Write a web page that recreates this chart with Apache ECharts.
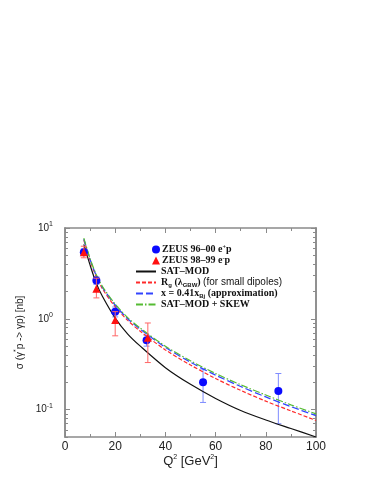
<!DOCTYPE html>
<html><head><meta charset="utf-8">
<script src="https://cdn.jsdelivr.net/npm/echarts@6/dist/echarts.min.js"></script>
<style>html,body{margin:0;padding:0;background:#fff}#c{width:382px;height:494px}</style>
</head><body><div id="c"></div><script>
// ---- data ----
const q2Curve = [7.5, 10, 12.5, 15, 20, 25, 30, 40, 50, 60, 70, 80, 90, 100];
const satMod  = [6.6, 3.9, 2.45, 1.75, 1.02, 0.68, 0.5, 0.29, 0.19, 0.133, 0.098, 0.077, 0.062, 0.05];
const rgGbw   = [7.35, 4.4, 2.9, 2.12, 1.36, 0.96, 0.73, 0.455, 0.31, 0.22, 0.163, 0.124, 0.097, 0.076];
const xApprox = [7.55, 4.5, 2.98, 2.2, 1.42, 1.0, 0.77, 0.485, 0.333, 0.24, 0.18, 0.138, 0.108, 0.086];
const satSkew = [7.75, 4.6, 3.05, 2.25, 1.45, 1.03, 0.79, 0.5, 0.345, 0.25, 0.188, 0.145, 0.113, 0.09];

const q2Zeus1  = [7.5, 12.5, 20, 32.5, 55, 85];
const sigZeus1 = [5.4, 2.65, 1.2, 0.58, 0.2, 0.16];
const loZeus1  = [5.0, 2.4, 1.05, 0.5, 0.12, 0.07];
const hiZeus1  = [5.9, 2.9, 1.35, 0.66, 0.28, 0.25];

const q2Zeus2  = [7.5, 12.5, 20, 33];
const sigZeus2 = [5.4, 2.15, 0.97, 0.62];
const loZeus2  = [4.7, 1.7, 0.65, 0.33];
const hiZeus2  = [6.3, 2.8, 1.2, 0.9];

const xTicks = [0, 20, 40, 60, 80, 100];
const yMajor = [0.1, 1, 10];
const yMinor = [0.05, 0.06, 0.07, 0.08, 0.09, 0.2, 0.3, 0.4, 0.5, 0.6, 0.7, 0.8, 0.9, 2, 3, 4, 5, 6, 7, 8, 9];

const names = ['ZEUS 96–00 e+p', 'ZEUS 98–99 e-p', 'SAT–MOD', 'Rg', 'xBj', 'SAT–MOD + SKEW'];
const legendText = {
  'ZEUS 96–00 e+p': 'ZEUS 96–00 e{sup|+}p',
  'ZEUS 98–99 e-p': 'ZEUS 98–99 e{sup|-}p',
  'SAT–MOD': 'SAT–MOD',
  'Rg': 'R{sub|g} (λ{sub|GBW}) {sans|(for small dipoles)}',
  'xBj': 'x = 0.41x{sub|Bj} (approximation)',
  'SAT–MOD + SKEW': 'SAT–MOD + SKEW'
};

// ---- chart ----
const zip = (a, b) => a.map((v, i) => [v, b[i]]);
const zip3 = (a, b, c) => a.map((v, i) => [v, b[i], c[i]]);
const frame = '#8a8a8a';
const serif = '"Liberation Serif", "DejaVu Serif", serif';
const sans = '"Liberation Sans", Arial, sans-serif';

function errBar(color) {
  return function (params, api) {
    const x = api.value(0);
    const lo = api.coord([x, api.value(1)]);
    const hi = api.coord([x, api.value(2)]);
    const w = 3;
    const st = { stroke: color, lineWidth: 1 };
    return { type: 'group', children: [
      { type: 'line', shape: { x1: lo[0], y1: lo[1], x2: hi[0], y2: hi[1] }, style: st },
      { type: 'line', shape: { x1: lo[0] - w, y1: lo[1], x2: lo[0] + w, y2: lo[1] }, style: st },
      { type: 'line', shape: { x1: hi[0] - w, y1: hi[1], x2: hi[0] + w, y2: hi[1] }, style: st }
    ]};
  };
}

const xBase = {
  type: 'value', min: 0, max: 100, interval: 20, gridIndex: 0,
  axisLine: { show: true, lineStyle: { color: frame, width: 1.5 } },
  axisTick: { show: true, inside: true, length: 5, lineStyle: { color: frame } },
  minorTick: { show: true, splitNumber: 2, length: 3, lineStyle: { color: frame } },
  splitLine: { show: false }
};
const yBase = {
  type: 'log', min: 0.05, max: 10, logBase: 10,
  axisLine: { show: true, lineStyle: { color: frame, width: 1.5 } },
  splitLine: { show: false }
};
const supRich = { s: { fontSize: 7, verticalAlign: 'top', padding: [0, 0, 7, 0], fontFamily: sans, color: '#222' } };

const option = {
  animation: false,
  backgroundColor: '#fff',
  grid: { left: 65, top: 228, width: 251, height: 209, containLabel: false },
  xAxis: [
    Object.assign({}, xBase, {
      position: 'bottom',
      name: 'Q{s|2} [GeV{s|2}]', nameLocation: 'middle', nameGap: 16,
      nameTextStyle: { fontFamily: sans, fontSize: 13, color: '#222',
        rich: { s: { fontSize: 7, verticalAlign: 'top', padding: [0, 0, 8, 0], fontFamily: sans, color: '#222' } } },
      axisLabel: { show: true, margin: 4, fontFamily: sans, fontSize: 12, color: '#222' }
    }),
    Object.assign({}, xBase, { position: 'top', axisLabel: { show: false } })
  ],
  yAxis: [
    Object.assign({}, yBase, {
      position: 'left',
      name: 'σ (γ{s|*}p -> γp) [nb]', nameLocation: 'middle', nameRotate: 90, nameGap: 28,
      nameTextStyle: { fontFamily: sans, fontSize: 10, color: '#222', rich: supRich },
      axisTick: { show: true, inside: true, length: 5, lineStyle: { color: frame }, customValues: yMajor },
      axisLabel: { show: true, margin: 12, fontFamily: sans, fontSize: 10, color: '#222', customValues: yMajor,
        formatter: v => '10{s|' + Math.round(Math.log10(v)) + '}', rich: supRich }
    }),
    Object.assign({}, yBase, {
      position: 'left',
      axisTick: { show: true, inside: true, length: 3, lineStyle: { color: frame }, customValues: yMinor },
      axisLabel: { show: false }
    }),
    Object.assign({}, yBase, {
      position: 'right',
      axisTick: { show: true, inside: true, length: 5, lineStyle: { color: frame }, customValues: yMajor },
      axisLabel: { show: false }
    }),
    Object.assign({}, yBase, {
      position: 'right',
      axisTick: { show: true, inside: true, length: 3, lineStyle: { color: frame }, customValues: yMinor },
      axisLabel: { show: false }
    })
  ],
  legend: [
    {
      data: [names[0], names[1]], orient: 'vertical', left: 147, top: 239,
      itemWidth: 8, itemHeight: 8, itemGap: 0,
      formatter: n => legendText[n],
      textStyle: { fontFamily: serif, fontWeight: 'bold', fontSize: 10, color: '#111', lineHeight: 11, padding: [0, 0, 0, -3],
        rich: { sup: { fontSize: 6, verticalAlign: 'top', padding: [0, 0, 5, 0], fontFamily: serif, fontWeight: 'bold' } } }
    },
    {
      data: [names[2], names[3], names[4], names[5]], orient: 'vertical', left: 130, top: 261,
      itemWidth: 20, itemHeight: 8, itemGap: 0,
      itemStyle: { opacity: 0 },
      formatter: n => legendText[n],
      textStyle: { fontFamily: serif, fontWeight: 'bold', fontSize: 10, color: '#111', lineHeight: 11,
        rich: {
          sub: { fontSize: 6, verticalAlign: 'bottom', padding: [4, 0, 0, 0], fontFamily: sans, fontWeight: 'bold' },
          sans: { fontFamily: sans, fontWeight: 'normal', fontSize: 10 }
        } }
    }
  ],
  series: [
    { name: names[2], type: 'line', smooth: 0.3, symbol: 'none', data: zip(q2Curve, satMod),
      lineStyle: { color: '#111', width: 1.2 }, itemStyle: { color: '#111' } },
    { name: names[3], type: 'line', smooth: 0.3, symbol: 'none', data: zip(q2Curve, rgGbw),
      lineStyle: { color: '#ff2a2a', width: 1.2, type: [4, 2] }, itemStyle: { color: '#ff2a2a' } },
    { name: names[4], type: 'line', smooth: 0.3, symbol: 'none', data: zip(q2Curve, xApprox),
      lineStyle: { color: '#3344ff', width: 1.3, type: [7, 3] }, itemStyle: { color: '#3344ff' } },
    { name: names[5], type: 'line', smooth: 0.3, symbol: 'none', data: zip(q2Curve, satSkew),
      lineStyle: { color: '#55bb33', width: 1.2, type: [7, 2, 1.5, 2] }, itemStyle: { color: '#55bb33' } },
    { name: 'err1', type: 'custom', renderItem: errBar('#7f8cff'), data: zip3(q2Zeus1, loZeus1, hiZeus1),
      encode: { x: 0, y: [1, 2] }, z: 3 },
    { name: names[0], type: 'scatter', symbol: 'circle', symbolSize: 8, data: zip(q2Zeus1, sigZeus1),
      itemStyle: { color: '#0a0aff', opacity: 1 }, z: 4 },
    { name: 'err2', type: 'custom', renderItem: errBar('#ff6666'), data: zip3(q2Zeus2, loZeus2, hiZeus2),
      encode: { x: 0, y: [1, 2] }, z: 5 },
    { name: names[1], type: 'scatter', symbol: 'triangle', symbolSize: 8, data: zip(q2Zeus2, sigZeus2),
      itemStyle: { color: '#ff1010', opacity: 1 }, z: 6 }
  ]
};
const chart = echarts.init(document.getElementById('c'), null, { renderer: 'canvas' });
chart.setOption(option);
</script></body></html>
